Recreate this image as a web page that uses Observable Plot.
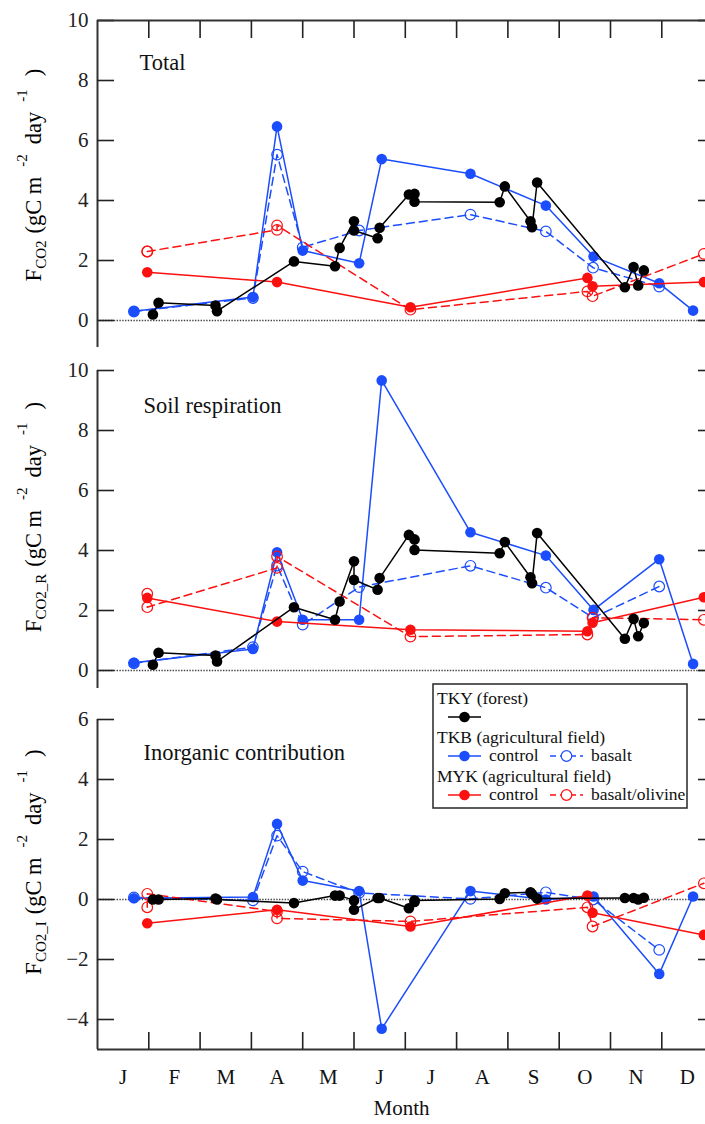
<!DOCTYPE html>
<html><head><meta charset="utf-8">
<script src="https://cdn.jsdelivr.net/npm/d3@7"></script>
<script src="https://cdn.jsdelivr.net/npm/@observablehq/plot@0.6"></script>
<style>
body{margin:0;background:#fff;}
#wrap{position:relative;width:705px;height:1124px;overflow:hidden;background:#fff;font-family:"Liberation Serif",serif;}
#wrap > svg{position:absolute;left:0;}
#wrap text{font-family:"Liberation Serif",serif;}
</style></head><body><div id="wrap"></div>
<script>
// ---- Data (x = months since Jan 1) ----
const monthLabels = ["J","F","M","A","M","J","J","A","S","O","N","D"];
const monthBoundaries = [1,2,3,4,5,6,7,8,9,10,11];

const tkyMonth = [1.08,1.19,2.30,2.33,3.83,4.63,4.72,5.00,5.00,5.46,5.50,6.07,6.18,6.18,7.84,7.94,8.44,8.47,8.57,10.28,10.45,10.54,10.65];
const tkyTotal = [0.20,0.59,0.50,0.31,1.97,1.81,2.42,3.31,3.00,2.74,3.09,4.20,4.22,3.96,3.94,4.47,3.31,3.11,4.60,1.11,1.78,1.17,1.67];
const tkySoil  = [0.19,0.59,0.50,0.30,2.11,1.69,2.30,3.64,3.02,2.69,3.08,4.52,4.37,4.02,3.91,4.28,3.11,2.91,4.58,1.06,1.72,1.14,1.58];
const tkyInorg = [0.00,0.00,0.03,0.00,-0.12,0.13,0.13,-0.03,-0.34,0.05,0.05,-0.29,-0.08,-0.03,0.02,0.21,0.24,0.18,0.03,0.05,0.05,0.00,0.06];

const tkbCtrlMonth = [0.71,3.03,3.50,4.00,5.10,5.54,7.27,8.74,9.67,10.95,11.61];
const tkbCtrlTotal = [0.31,0.78,6.47,2.33,1.91,5.38,4.89,3.83,2.13,1.24,0.33];
const tkbCtrlSoil  = [0.26,0.72,3.94,1.69,1.69,9.67,4.61,3.83,2.02,3.71,0.22];
const tkbCtrlInorg = [0.04,0.08,2.52,0.63,0.28,-4.31,0.28,0.00,0.10,-2.48,0.10];

const tkbBasMonth = [0.71,3.03,3.50,4.00,5.10,7.27,8.74,9.66,10.95];
const tkbBasTotal = [0.30,0.75,5.53,2.44,3.00,3.53,2.97,1.76,1.13];
const tkbBasSoil  = [0.24,0.78,3.50,1.53,2.78,3.49,2.76,1.76,2.80];
const tkbBasInorg = [0.07,-0.03,2.13,0.93,0.22,0.02,0.24,0.00,-1.68];

const mykCtrlMonth = [0.97,3.50,6.10,9.55,9.65,11.82];
const mykCtrlTotal = [1.61,1.28,0.44,1.42,1.14,1.28];
const mykCtrlSoil  = [2.42,1.63,1.36,1.31,1.59,2.44];
const mykCtrlInorg = [-0.79,-0.34,-0.90,0.13,-0.44,-1.18];

const mykBasMonth = [0.97,0.97,3.50,3.50,6.10,9.55,9.65,11.82];
const mykBasTotal = [2.30,2.30,3.02,3.17,0.36,0.97,0.81,2.22];
const mykBasSoil  = [2.56,2.11,3.42,3.80,1.13,1.20,1.76,1.69];
const mykBasInorg = [-0.26,0.19,-0.40,-0.63,-0.73,-0.26,-0.90,0.54];

const panelTitles = ["Total","Soil respiration","Inorganic contribution"];
const panelSubs = ["CO2","CO2_R","CO2_I"];

// ---- styles ----
const BLUE = "#1b4dfc", RED = "#fb1010", BLACK = "#000";
const FONT = "Liberation Serif, serif";

const rows = (ms, vs) => ms.map((m, i) => ({m, v: vs[i]}));

const series = [
  {months: tkbCtrlMonth, vals: [tkbCtrlTotal, tkbCtrlSoil, tkbCtrlInorg], color: BLUE, dashed: false, open: false},
  {months: tkbBasMonth,  vals: [tkbBasTotal, tkbBasSoil, tkbBasInorg],    color: BLUE, dashed: true,  open: true},
  {months: mykCtrlMonth, vals: [mykCtrlTotal, mykCtrlSoil, mykCtrlInorg], color: RED,  dashed: false, open: false},
  {months: mykBasMonth,  vals: [mykBasTotal, mykBasSoil, mykBasInorg],    color: RED,  dashed: true,  open: true},
  {months: tkyMonth,     vals: [tkyTotal, tkySoil, tkyInorg],             color: BLACK, dashed: false, open: false}
];

const wrap = document.getElementById("wrap");

function yLabel(svg, sub, cy) {
  const t = d3.select(svg).append("text")
    .attr("transform", `translate(41,${cy}) rotate(-90)`)
    .attr("text-anchor", "middle")
    .style("font-family", FONT).attr("font-size", 22.5).attr("fill", "#000");
  t.append("tspan").text("F");
  t.append("tspan").attr("font-size", 15).attr("dy", 5).text(sub);
  t.append("tspan").attr("dy", -5).attr("dx", 7).text("(gC m");
  t.append("tspan").attr("font-size", 15).attr("dy", -14).attr("dx", 10).text("-2");
  t.append("tspan").attr("dy", 14).attr("dx", 10).text("day");
  t.append("tspan").attr("font-size", 15).attr("dy", -14).attr("dx", 10).text("-1");
  t.append("tspan").attr("dy", 14).attr("dx", 13).text(")");
}

function panel(idx, cfg) {
  const marks = [
    Plot.ruleY([0], {stroke: "#444", strokeWidth: 1.4, strokeDasharray: "1.4,1.4"}),
    Plot.ruleX([0], {stroke: "#333", strokeWidth: 2}),
    Plot.axisY({anchor: "left", ticks: cfg.yTicks, tickSize: -17, tickPadding: 26, label: null, color: "#222",
      fontSize: 21, fontFamily: FONT, strokeWidth: 1.6}),
    Plot.axisY({anchor: "right", ticks: cfg.yTicks, tickSize: -8, tickFormat: () => "", label: null, color: "#222", strokeWidth: 1.6})
  ];
  if (idx === 0) {
    marks.push(Plot.ruleY([cfg.yDomain[1]], {stroke: "#333", strokeWidth: 2}));
    marks.push(Plot.axisX({anchor: "top", ticks: monthBoundaries, tickSize: -17, tickFormat: () => "", label: null, color: "#222", strokeWidth: 1.6}));
  }
  if (idx === 2) {
    marks.push(Plot.ruleY([cfg.yDomain[0]], {stroke: "#333", strokeWidth: 2}));
    marks.push(Plot.axisX({anchor: "bottom", ticks: monthBoundaries, tickSize: -17, tickFormat: () => "", label: null, color: "#222", strokeWidth: 1.6}));
    marks.push(Plot.axisX({anchor: "bottom", ticks: monthLabels.map((_, i) => i + 0.5), tickSize: 0, tickPadding: 20,
      tickFormat: d => monthLabels[Math.floor(d)], label: null, fontSize: 21, fontFamily: FONT, color: "#111"}));
    marks.push(Plot.text(["Month"], {frameAnchor: "bottom", dy: 65, text: d => d, fontSize: 21, fontFamily: FONT, fill: "#111"}));
  }
  for (const s of series) {
    const data = rows(s.months, s.vals[idx]);
    marks.push(Plot.line(data, {x: "m", y: "v", stroke: s.color, strokeWidth: 1.5,
      strokeDasharray: s.dashed ? "8,5" : undefined}));
    marks.push(Plot.dot(data, {x: "m", y: "v", r: 5.3,
      fill: s.open ? "none" : s.color, stroke: s.open ? s.color : "none", strokeWidth: 1.2}));
  }
  marks.push(Plot.text([panelTitles[idx]], {frameAnchor: "top-left", dx: cfg.titleDx, dy: cfg.titleDy,
    text: d => d, textAnchor: "start", lineAnchor: "middle", fontSize: 22.5, fontFamily: FONT, fill: "#111"}));

  const svg = Plot.plot({
    width: 705, height: cfg.height,
    marginLeft: 97, marginRight: 0, marginTop: cfg.mt, marginBottom: cfg.mb,
    style: {fontFamily: FONT, fontSize: "21px", background: "transparent", overflow: "visible"},
    x: {domain: [0, 11.852], axis: idx === 1 ? null : undefined},
    y: {domain: cfg.yDomain},
    marks
  });
  svg.style.top = cfg.top + "px";
  yLabel(svg, panelSubs[idx], cfg.labelCy);
  wrap.appendChild(svg);
}

panel(0, {top: 0, height: 350, mt: 20, mb: 3, yDomain: [-0.9, 10], yTicks: [0,2,4,6,8,10], titleDx: 42, titleDy: 42, labelCy: 175});
panel(1, {top: 350, height: 345, mt: 20, mb: 7, yDomain: [-0.6, 10], yTicks: [0,2,4,6,8,10], titleDx: 46, titleDy: 35, labelCy: 167});
panel(2, {top: 695, height: 429, mt: 24, mb: 75, yDomain: [-5, 6], yTicks: [-4,-2,0,2,4,6], titleDx: 46, titleDy: 33, labelCy: 167});

// ---- Legend ----
const legendRows = [
  {type: "head", text: "TKY (forest)", y: 21},
  {type: "items", y: 34, items: [{color: BLACK, dashed: false, open: false, label: ""}]},
  {type: "head", text: "TKB (agricultural field)", y: 60},
  {type: "items", y: 73, items: [{color: BLUE, dashed: false, open: false, label: "control"}, {color: BLUE, dashed: true, open: true, label: "basalt"}]},
  {type: "head", text: "MYK (agricultural field)", y: 99},
  {type: "items", y: 112, items: [{color: RED, dashed: false, open: false, label: "control"}, {color: RED, dashed: true, open: true, label: "basalt/olivine"}]}
];
const lg = d3.create("svg").attr("width", 256).attr("height", 126)
  .style("position", "absolute").style("left", "432px").style("top", "683px");
lg.append("rect").attr("x", 1).attr("y", 1).attr("width", 254).attr("height", 124)
  .attr("fill", "#fff").attr("stroke", "#333").attr("stroke-width", 1.6);
for (const r of legendRows) {
  if (r.type === "head") {
    lg.append("text").attr("x", 5).attr("y", r.y).style("font-family", FONT).attr("font-size", 17.5).attr("fill", "#111").text(r.text);
  } else {
    r.items.forEach((it, j) => {
      const x0 = 16 + j * 102;
      lg.append("line").attr("x1", x0).attr("x2", x0 + 33).attr("y1", r.y).attr("y2", r.y)
        .attr("stroke", it.color).attr("stroke-width", 1.5).attr("stroke-dasharray", it.dashed ? "6,4" : null);
      lg.append("circle").attr("cx", x0 + 16.5).attr("cy", r.y).attr("r", 5.3)
        .attr("fill", it.open ? "#fff" : it.color).attr("stroke", it.open ? it.color : "none").attr("stroke-width", 1.2);
      if (it.label) lg.append("text").attr("x", x0 + 41).attr("y", r.y + 5).style("font-family", FONT)
        .attr("font-size", 17.5).attr("fill", "#111").text(it.label);
    });
  }
}
wrap.appendChild(lg.node());
</script>
</body></html>
